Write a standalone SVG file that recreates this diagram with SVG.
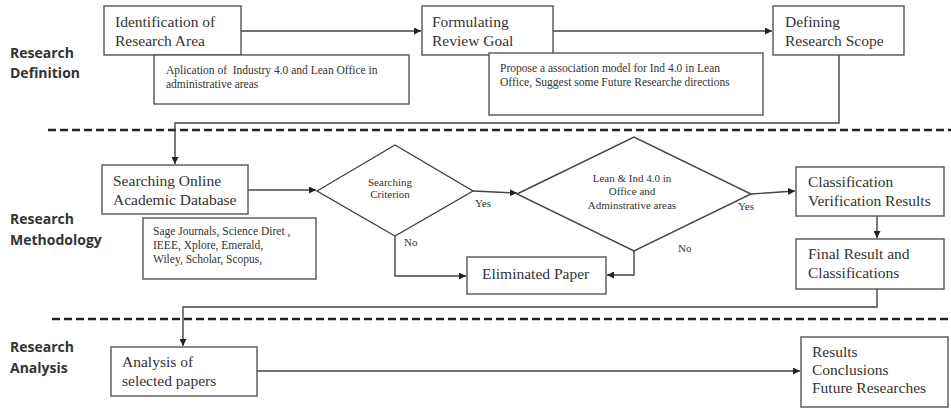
<svg xmlns="http://www.w3.org/2000/svg" width="951" height="410" viewBox="0 0 951 410">
<defs>
<style>
.box{fill:#fff;stroke:#555;stroke-width:1.4}
.dia{fill:#fff;stroke:#444;stroke-width:1.4}
.con{fill:none;stroke:#444;stroke-width:1.4}
.sep{fill:none;stroke:#222;stroke-width:2.6;stroke-dasharray:8 4}
.t{font-family:"Liberation Serif","Times New Roman",serif;font-size:15.5px;fill:#333}
.s{font-family:"Liberation Serif","Times New Roman",serif;font-size:11.5px;fill:#333}
.d{font-family:"Liberation Serif","Times New Roman",serif;font-size:11px;fill:#333}
.lab{font-family:"Open Sans","Liberation Sans",Arial,sans-serif;font-size:14px;font-weight:bold;fill:#333}
</style>
<marker id="ah" viewBox="0 0 10 10" refX="10" refY="5" markerWidth="7" markerHeight="7" markerUnits="userSpaceOnUse" orient="auto">
<path d="M0,0 L10,5 L0,10 z" fill="#222"/>
</marker>
</defs>
<rect width="951" height="410" fill="#fff"/>

<g id="separators">
<line class="sep" x1="48" y1="130" x2="951" y2="130"/>
<line class="sep" x1="52" y1="319" x2="951" y2="319"/>
</g>

<g id="section-labels">
<text class="lab" x="10" y="58">Research</text>
<text class="lab" x="10" y="78">Definition</text>
<text class="lab" x="10" y="224">Research</text>
<text class="lab" x="10" y="245">Methodology</text>
<text class="lab" x="10" y="352">Research</text>
<text class="lab" x="10" y="373">Analysis</text>
</g>

<g id="connectors">
<line class="con" x1="241" y1="31" x2="421" y2="31" marker-end="url(#ah)"/>
<line class="con" x1="553" y1="31" x2="772" y2="31" marker-end="url(#ah)"/>
<polyline class="con" points="839,55 839,123 175,123 175,164" marker-end="url(#ah)"/>
<line class="con" x1="248" y1="190" x2="316" y2="190" marker-end="url(#ah)"/>
<line class="con" x1="473" y1="191" x2="517" y2="193" marker-end="url(#ah)"/>
<line class="con" x1="751" y1="194" x2="795" y2="191" marker-end="url(#ah)"/>
<polyline class="con" points="395,236 395,276 466,276" marker-end="url(#ah)"/>
<polyline class="con" points="634,251 634,275 607,275" marker-end="url(#ah)"/>
<line class="con" x1="877" y1="216" x2="877" y2="238" marker-end="url(#ah)"/>
<polyline class="con" points="877,289 877,307 183,307 183,346" marker-end="url(#ah)"/>
<line class="con" x1="257" y1="371" x2="800" y2="371" marker-end="url(#ah)"/>
</g>

<g id="n-identification">
<rect class="box" x="104" y="6" width="137" height="49"/>
<text class="t" x="115" y="27">Identification of</text>
<text class="t" x="115" y="46">Research Area</text>
</g>
<g id="n-application">
<rect class="box" x="154" y="55" width="255" height="49"/>
<text class="s" x="166" y="74" xml:space="preserve">Aplication of  Industry 4.0 and Lean Office in</text>
<text class="s" x="166" y="88">administrative areas</text>
</g>

<g id="n-formulating">
<rect class="box" x="422" y="6" width="131" height="49"/>
<text class="t" x="432" y="27">Formulating</text>
<text class="t" x="432" y="46">Review Goal</text>
</g>
<g id="n-propose">
<rect class="box" x="489" y="53" width="274" height="62"/>
<text class="s" x="500" y="72">Propose a association model for Ind 4.0 in Lean</text>
<text class="s" x="500" y="86">Office, Suggest some Future Researche directions</text>
</g>

<g id="n-defining">
<rect class="box" x="773" y="6" width="131" height="49"/>
<text class="t" x="785" y="27">Defining</text>
<text class="t" x="785" y="46">Research Scope</text>
</g>

<g id="n-searching">
<rect class="box" x="102" y="165" width="146" height="49"/>
<text class="t" x="113" y="186">Searching Online</text>
<text class="t" x="113" y="205">Academic Database</text>
</g>
<g id="n-databases">
<rect class="box" x="143" y="218" width="173" height="61"/>
<text class="s" x="153" y="235">Sage Journals, Science Diret ,</text>
<text class="s" x="153" y="249">IEEE, Xplore, Emerald,</text>
<text class="s" x="153" y="263">Wiley, Scholar, Scopus,</text>
</g>

<g id="n-criterion">
<polygon class="dia" points="317,191 395,145 473,191 395,236"/>
<text class="d" x="390" y="186" text-anchor="middle">Searching</text>
<text class="d" x="390" y="198" text-anchor="middle">Criterion</text>
</g>
<text class="d" x="475" y="207">Yes</text>
<text class="d" x="404" y="246">No</text>

<g id="n-lean">
<polygon class="dia" points="517,194 634,137 751,194 634,251"/>
<text class="d" x="632" y="182" text-anchor="middle">Lean &amp; Ind 4.0 in</text>
<text class="d" x="632" y="195" text-anchor="middle">Office and</text>
<text class="d" x="632" y="209" text-anchor="middle">Adminstrative areas</text>
</g>
<text class="d" x="738" y="210">Yes</text>
<text class="d" x="678" y="252">No</text>

<g id="n-eliminated">
<rect class="box" x="467" y="257" width="139" height="37"/>
<text class="t" x="482" y="279">Eliminated Paper</text>
</g>

<g id="n-classification">
<rect class="box" x="796" y="167" width="148" height="49"/>
<text class="t" x="808" y="187">Classification</text>
<text class="t" x="808" y="206">Verification Results</text>
</g>
<g id="n-final">
<rect class="box" x="796" y="239" width="148" height="50"/>
<text class="t" x="808" y="259">Final Result and</text>
<text class="t" x="808" y="278">Classifications</text>
</g>

<g id="n-analysis">
<rect class="box" x="111" y="347" width="146" height="49"/>
<text class="t" x="122" y="367">Analysis of</text>
<text class="t" x="122" y="386">selected papers</text>
</g>
<g id="n-results">
<rect class="box" x="801" y="337" width="147" height="70"/>
<text class="t" x="812" y="357">Results</text>
<text class="t" x="812" y="375">Conclusions</text>
<text class="t" x="812" y="393">Future Researches</text>
</g>
</svg>
